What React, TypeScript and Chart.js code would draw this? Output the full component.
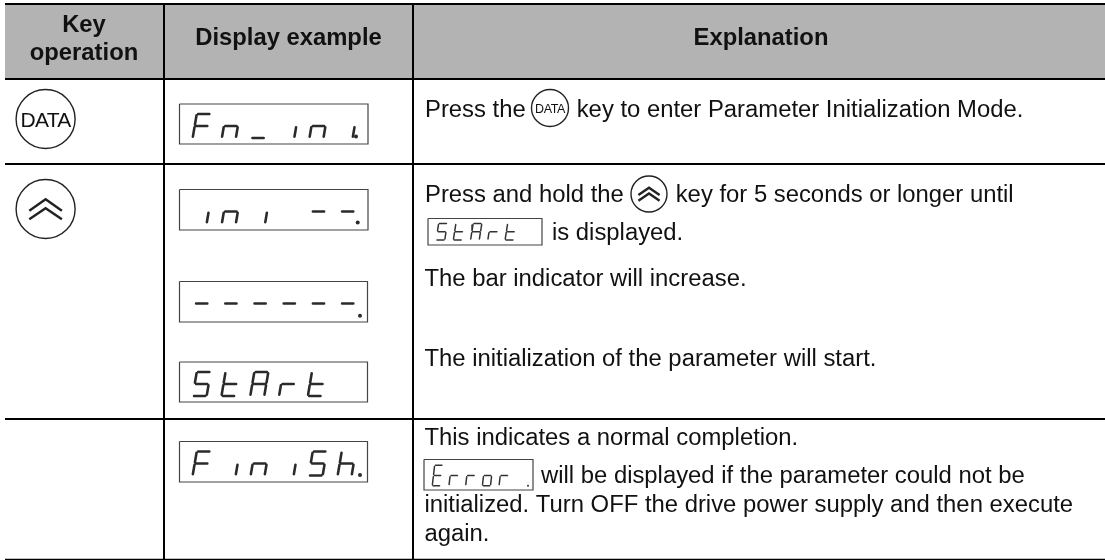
import React, { useEffect, useRef } from "react";
import { Chart, registerables } from "chart.js";

Chart.register(...registerables);

const WIDTH = 1105;
const HEIGHT = 560;

// Table rules
const tableLeft = 5;
const tableRight = 1105;
const columnRules = [164, 413];
const rowRules = [4, 79, 164, 419];
const bottomRule = 559.3;
const headerBand = [4, 79];

// Header text
const headers = [
  { text: "Key", x: 84, y: 32 },
  { text: "operation", x: 84, y: 60 },
  { text: "Display example", x: 288.5, y: 44.5 },
  { text: "Explanation", x: 761, y: 45 },
];

// Explanation text
const bodyLines = [
  { text: "Press the", x: 425, y: 116.5 },
  { text: "key to enter Parameter Initialization Mode.", x: 576.7, y: 116.5 },
  { text: "Press and hold the", x: 425, y: 201.7 },
  { text: "key for 5 seconds or longer until", x: 675.7, y: 201.7 },
  { text: "is displayed.", x: 552, y: 240 },
  { text: "The bar indicator will increase.", x: 424.5, y: 285.7 },
  { text: "The initialization of the parameter will start.", x: 424.5, y: 365.7 },
  { text: "This indicates a normal completion.", x: 424.5, y: 445 },
  { text: "will be displayed if the parameter could not be", x: 541, y: 482.7 },
  { text: "initialized. Turn OFF the drive power supply and then execute", x: 424.5, y: 511.7 },
  { text: "again.", x: 424.5, y: 541 },
];

// Seven-segment readouts: chars, box, first column, column pitch, scales
const displays = [
  { chars: "Fn_ini", box: [179.5, 104, 368, 144], x0: 201.7, pitch: 29.2, sx: 1, sy: 1, dot: [356, 136.5] },
  { chars: "ini --", box: [179.5, 189.5, 368, 230], x0: 201.7, pitch: 29.2, sx: 1, sy: 1, dot: [357.7, 222.5] },
  { chars: "------", box: [179.5, 281.5, 367.5, 322], x0: 201.7, pitch: 29.2, sx: 1, sy: 1, dot: [360, 315.7] },
  { chars: "StArt ", box: [179.5, 362, 367.5, 402], x0: 201.7, pitch: 28.8, sx: 1, sy: 1, dot: null },
  { chars: "FiniSh", box: [179.5, 441.5, 367.5, 482], x0: 201.7, pitch: 29, sx: 1, sy: 1, dot: [360, 475] },
  { chars: "StArt ", box: [428, 218.5, 542, 245], x0: 441.7, pitch: 17.25, sx: 0.62, sy: 0.68, dot: null },
  { chars: "Error ", box: [424, 459.5, 533, 490], x0: 437.5, pitch: 16.7, sx: 0.58, sy: 0.85, dot: [528, 485.7] },
];

const glyphs: Record<string, string> = {
  F: "afge",
  n: "egc",
  _: "d",
  i: "c",
  "-": "g",
  S: "afgcd",
  t: "fged",
  A: "abcefg",
  r: "eg",
  E: "afged",
  o: "egcd",
  h: "fegc",
  " ": "",
};

// Key symbols
const keyDataText = [
  { x: 45.6, y: 127, size: 21, spacing: -0.7 },
  { x: 550, y: 113, size: 12.5, spacing: -0.4 },
];
const keyCircles = [
  { x: 45.6, y: 119, r: 29.5 },
  { x: 45.6, y: 209, r: 29.5 },
  { x: 550, y: 108, r: 18.5 },
  { x: 649, y: 194, r: 18 },
];
const chevronKeys = [
  { x: 45.6, y: 209, s: 1 },
  { x: 649, y: 194, s: 0.65 },
];
const chevronShape = [
  [[-16.3, 1.7], [0, -9.7], [16.3, 1.7]],
  [[-16.3, 10.3], [0, -0.7], [16.3, 10.3]],
];

type P = { x: number; y: number | null };

function segmentPoints(): { big: P[]; small: P[] } {
  const big: P[] = [];
  const small: P[] = [];
  const W = 7, H = 12, K = 0.17, G = 1.4;
  displays.forEach((d) => {
    const midY = d.box[1] + (d.sy === 1 ? 22 : (d.box[3] - d.box[1]) / 2 + (d.sy < 0.8 ? 0 : 0.8));
    const target = d.sx === 1 ? big : small;
    d.chars.split("").forEach((c, col) => {
      const cx = d.x0 + d.pitch * col;
      const add = (x1: number, y1: number, x2: number, y2: number) => {
        const mx = (x: number, y: number) => cx + (x - y * K) * d.sx;
        const my = (y: number) => midY + y * d.sy;
        target.push({ x: mx(x1, y1), y: my(y1) });
        target.push({ x: mx(x2, y2), y: my(y2) });
        target.push({ x: cx, y: null });
      };
      for (const s of glyphs[c] ?? "") {
        if (s === "a") add(-W + G, -H, W - G, -H);
        if (s === "g") add(-W + G, 0, W - G, 0);
        if (s === "d") add(-W + G, H, W - G, H);
        if (s === "f") add(-W, -H + G, -W, -G);
        if (s === "b") add(W, -H + G, W, -G);
        if (s === "e") add(-W, G, -W, H - G);
        if (s === "c") add(W, G, W, H - G);
      }
    });
  });
  return { big, small };
}

function boxPoints(): P[] {
  const pts: P[] = [];
  displays.forEach(({ box: [l, t, r, b] }) => {
    pts.push({ x: l, y: t }, { x: r, y: t }, { x: r, y: b }, { x: l, y: b }, { x: l, y: t }, { x: l, y: null });
  });
  return pts;
}

function rulePoints(): P[] {
  const pts: P[] = [];
  rowRules.forEach((y) => pts.push({ x: tableLeft, y }, { x: tableRight, y }, { x: tableRight, y: null }));
  columnRules.forEach((x) => pts.push({ x, y: rowRules[0] }, { x, y: bottomRule }, { x, y: null }));
  return pts;
}

function chevronPoints(): P[] {
  const pts: P[] = [];
  chevronKeys.forEach((k) => {
    chevronShape.forEach((shape) => {
      shape.forEach(([dx, dy]) => pts.push({ x: k.x + dx * k.s, y: k.y + dy * k.s }));
      pts.push({ x: k.x, y: null });
    });
  });
  return pts;
}

const lineStyle = { pointRadius: 0, spanGaps: false, tension: 0, fill: false, clip: false as const };

const tablePlugin = {
  id: "tableText",
  afterDatasetsDraw(chart: any) {
    const { ctx, scales } = chart;
    const X = (v: number) => scales.x.getPixelForValue(v);
    const Y = (v: number) => scales.y.getPixelForValue(v);
    ctx.save();
    ctx.fillStyle = "#111111";
    ctx.textBaseline = "alphabetic";
    ctx.textAlign = "center";
    ctx.font = 'bold 23.8px "Liberation Sans", Arial, sans-serif';
    headers.forEach((h) => ctx.fillText(h.text, X(h.x), Y(h.y)));
    ctx.textAlign = "left";
    ctx.font = '23.85px "Liberation Sans", Arial, sans-serif';
    bodyLines.forEach((l) => ctx.fillText(l.text, X(l.x), Y(l.y)));
    ctx.textAlign = "center";
    keyDataText.forEach((k) => {
      ctx.font = `${k.size}px "Liberation Sans", Arial, sans-serif`;
      (ctx as any).letterSpacing = `${k.spacing}px`;
      ctx.fillText("DATA", X(k.x), Y(k.y));
    });
    ctx.restore();
  },
};

export default function App() {
  const ref = useRef<HTMLCanvasElement>(null);
  useEffect(() => {
    if (!ref.current) return;
    const { big, small } = segmentPoints();
    const dots = displays.filter((d) => d.dot).map((d) => ({ x: d.dot![0], y: d.dot![1] }));
    const bigDots = dots.slice(0, 4);
    const smallDots = dots.slice(4);
    const chart = new Chart(ref.current, {
      type: "line",
      data: {
        datasets: [
          {
            label: "Header band",
            data: [
              { x: tableLeft, y: (headerBand[0] + headerBand[1]) / 2 },
              { x: tableRight, y: (headerBand[0] + headerBand[1]) / 2 },
            ],
            borderColor: "#b3b3b3",
            borderWidth: headerBand[1] - headerBand[0],
            borderCapStyle: "butt",
            ...lineStyle,
          },
          {
            label: "Rules",
            data: rulePoints(),
            borderColor: "#000000",
            borderWidth: 2,
            borderCapStyle: "butt",
            ...lineStyle,
          },
          {
            label: "Bottom rule",
            data: [{ x: tableLeft, y: bottomRule }, { x: tableRight, y: bottomRule }],
            borderColor: "#000000",
            borderWidth: 1.2,
            ...lineStyle,
          },
          {
            label: "Key circles",
            type: "scatter",
            data: keyCircles.map((c) => ({ x: c.x, y: c.y })),
            pointRadius: keyCircles.map((c) => c.r),
            pointBackgroundColor: "#ffffff",
            pointBorderColor: "#222222",
            pointBorderWidth: 1.4,
            showLine: false,
            clip: false,
          },
          {
            label: "Chevrons",
            data: chevronPoints(),
            borderColor: "#222222",
            borderWidth: 2.4,
            borderJoinStyle: "miter",
            borderCapStyle: "butt",
            ...lineStyle,
          },
          {
            label: "Display boxes",
            data: boxPoints(),
            borderColor: "#444444",
            borderWidth: 1.2,
            borderJoinStyle: "miter",
            ...lineStyle,
          },
          {
            label: "Segments",
            data: big,
            borderColor: "#2a2a2a",
            borderWidth: 2.6,
            borderCapStyle: "round",
            ...lineStyle,
          },
          {
            label: "Small segments",
            data: small,
            borderColor: "#333333",
            borderWidth: 1.5,
            borderCapStyle: "round",
            ...lineStyle,
          },
          {
            label: "Decimal points",
            type: "scatter",
            data: bigDots,
            pointRadius: 2,
            pointBackgroundColor: "#2a2a2a",
            pointBorderWidth: 0,
            showLine: false,
          },
          {
            label: "Small decimal points",
            type: "scatter",
            data: smallDots,
            pointRadius: 1,
            pointBackgroundColor: "#333333",
            pointBorderWidth: 0,
            showLine: false,
          },
        ].reverse(),
      } as any,
      options: {
        responsive: false,
        animation: false,
        events: [],
        layout: { padding: 0, autoPadding: false },
        plugins: { legend: { display: false }, tooltip: { enabled: false }, title: { display: false } },
        scales: {
          x: { type: "linear", display: false, min: 0, max: WIDTH },
          y: { type: "linear", display: false, min: 0, max: HEIGHT, reverse: true },
        },
      } as any,
      plugins: [tablePlugin],
    });
    return () => chart.destroy();
  }, []);
  return (
    <div style={{ position: "fixed", left: 0, top: 0, width: WIDTH, height: HEIGHT, background: "#ffffff" }}>
      <canvas ref={ref} width={WIDTH} height={HEIGHT} style={{ display: "block" }} />
    </div>
  );
}
